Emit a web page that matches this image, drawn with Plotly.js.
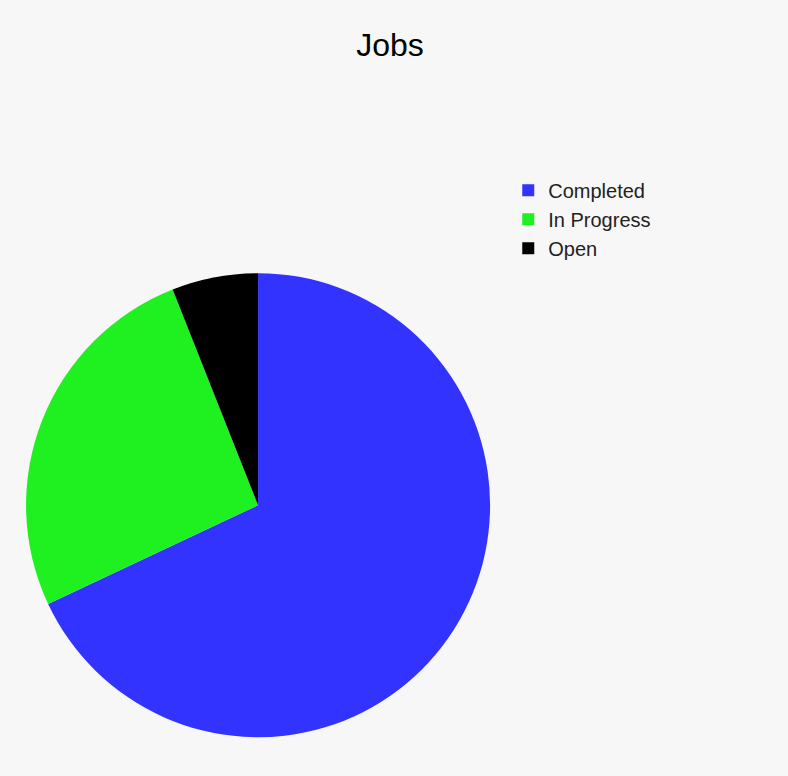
<!DOCTYPE html>
<html>
<head>
<meta charset="utf-8">
<script src="https://cdn.plot.ly/plotly-3.0.1.min.js"></script>
<style>body{margin:0;background:#f7f7f7}</style>
</head>
<body>
<div id="chart" style="width:788px;height:776px"></div>
<script>
var labels = ["Completed", "In Progress", "Open"];
var values = [34, 13, 3];
var colors = ["#3333ff", "#1ff01f", "#000000"];

var data = [{
	type: "pie",
	labels: labels,
	values: values,
	sort: false,
	direction: "clockwise",
	rotation: 0,
	textinfo: "none",
	hoverinfo: "label+percent",
	marker: {colors: colors, line: {width: 0}},
	domain: {x: [0.033, 0.622], y: [0.05, 0.648]}
}];

var layout = {
	width: 788,
	height: 776,
	paper_bgcolor: "#f7f7f7",
	plot_bgcolor: "#f7f7f7",
	font: {family: "Liberation Sans, Arial, sans-serif", color: "#222", size: 20},
	title: {text: "Jobs", font: {size: 32, color: "#000"}, x: 0.495, xanchor: "center", y: 0.942, yanchor: "middle"},
	showlegend: true,
	legend: {x: 0.645, y: 0.78, xanchor: "left", yanchor: "top", font: {size: 20}, bgcolor: "rgba(0,0,0,0)", tracegroupgap: 0},
	margin: {l: 0, r: 0, t: 0, b: 0}
};

Plotly.newPlot("chart", data, layout, {displayModeBar: false});
</script>
</body>
</html>
